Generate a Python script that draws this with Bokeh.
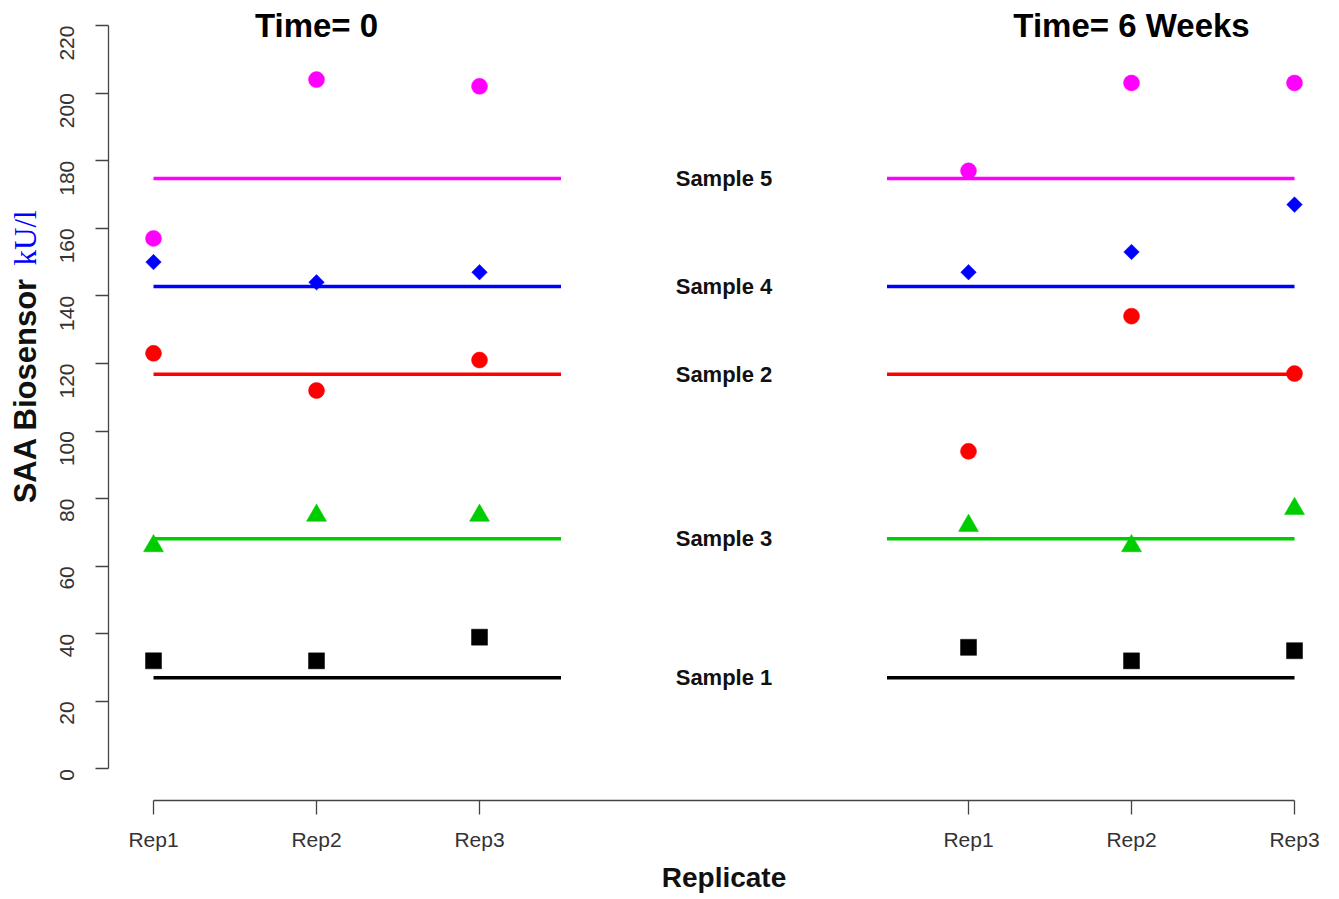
import math
from bokeh.plotting import figure
from bokeh.models import Range1d, FixedTicker, Label
from bokeh.embed import file_html
from bokeh.resources import INLINE

# ---- data ----
rep_x = [1, 2, 3, 6, 7, 8]
rep_labels = ["Rep1", "Rep2", "Rep3", "Rep1", "Rep2", "Rep3"]
y_ticks = [0, 20, 40, 60, 80, 100, 120, 140, 160, 180, 200, 220]

sample_names = ["Sample 5", "Sample 4", "Sample 2", "Sample 3", "Sample 1"]
sample5 = [157, 204, 202, 177, 203, 203]
sample4 = [150, 144, 147, 147, 153, 167]
sample2 = [123, 112, 121, 94, 134, 117]
sample3 = [66, 75, 75, 72, 66, 77]
sample1 = [32, 32, 39, 36, 32, 35]
ref_levels = [174.7, 142.8, 116.8, 68.1, 27.0]

panel_titles = ["Time= 0", "Time= 6 Weeks"]

# ---- styles ----
colors = ["#FF00FF", "#0000FF", "#FF0000", "#00CD00", "#000000"]
series = [sample5, sample4, sample2, sample3, sample1]
markers = ["circle", "square", "circle", "triangle", "square"]
msizes = [16, 11, 16, 20, 16]
mangles = [0, math.pi / 4, 0, 0, 0]

FONT = "Liberation Sans"

p = figure(width=1339, height=899, output_backend="svg", toolbar_location=None,
           x_range=Range1d(0.0613, 8.276), y_range=Range1d(-38.62, 227.40),
           min_border_left=0, min_border_right=0, min_border_top=0,
           min_border_bottom=0)
p.outline_line_color = None
p.xgrid.visible = False
p.ygrid.visible = False
p.background_fill_color = "white"
p.border_fill_color = "white"

# x axis (placed at the bottom of the data region)
xa = p.xaxis[0]
xa.fixed_location = -9.32
xa.ticker = FixedTicker(ticks=rep_x)
xa.major_label_overrides = {x: lab for x, lab in zip(rep_x, rep_labels)}
xa.bounds = (min(rep_x), max(rep_x))
xa.axis_line_color = "#444444"
xa.axis_line_width = 1.3
xa.major_tick_line_color = "#444444"
xa.major_tick_line_width = 1.3
xa.major_tick_out = 14
xa.major_tick_in = 0
xa.minor_tick_out = 0
xa.minor_tick_in = 0
xa.major_label_text_font = FONT
xa.major_label_text_font_size = "21px"
xa.major_label_text_color = "#333333"
xa.major_label_standoff = 14

# y axis (placed at the left edge of the data region)
ya = p.yaxis[0]
ya.fixed_location = 0.724
ya.ticker = FixedTicker(ticks=y_ticks)
ya.bounds = (min(y_ticks), max(y_ticks))
ya.axis_line_color = "#444444"
ya.axis_line_width = 1.3
ya.major_tick_line_color = "#444444"
ya.major_tick_line_width = 1.3
ya.major_tick_out = 13
ya.major_tick_in = 0
ya.minor_tick_out = 0
ya.minor_tick_in = 0
ya.major_label_orientation = math.pi / 2
ya.major_label_text_font = FONT
ya.major_label_text_font_size = "21px"
ya.major_label_text_color = "#333333"
ya.major_label_standoff = 29

# reference lines per sample (two panels)
for lvl, col in zip(ref_levels, colors):
    p.segment(x0=[1, 5.5], x1=[3.5, 8], y0=[lvl, lvl], y1=[lvl, lvl],
              line_color=col, line_width=3.5, line_cap="butt")

# points
for vals, col, mk, sz, ang in zip(series, colors, markers, msizes, mangles):
    p.scatter(x=rep_x, y=vals, marker=mk, size=sz, angle=ang,
              fill_color=col, line_color=col, line_width=0.5)

# sample labels in the gap
for name, lvl in zip(sample_names, ref_levels):
    p.add_layout(Label(x=4.5, y=lvl, text=name, text_align="center",
                       text_baseline="middle", text_font=FONT,
                       text_font_size="22px", text_font_style="bold",
                       text_color="#111111"))

# panel titles
centers = [sum(rep_x[:3]) / 3, sum(rep_x[3:]) / 3]
for t, cx in zip(panel_titles, centers):
    p.add_layout(Label(x=cx, y=max(y_ticks), text=t, text_align="center",
                       text_baseline="middle", text_font=FONT,
                       text_font_size="33px", text_font_style="bold",
                       text_color="#000000"))

# x axis title
p.add_layout(Label(x=(min(rep_x) + max(rep_x)) / 2, y=-32.1, text="Replicate",
                   text_align="center", text_baseline="middle",
                   text_font=FONT, text_font_size="28px",
                   text_font_style="bold", text_color="#111111"))

# y axis title (two styles)
p.add_layout(Label(x=0.2145, y=78.6, text="SAA Biosensor", angle=math.pi / 2,
                   text_align="left", text_baseline="alphabetic",
                   text_font=FONT, text_font_size="31px",
                   text_font_style="bold", text_color="#111111"))
p.add_layout(Label(x=0.2145, y=149.0, text="kU/l", angle=math.pi / 2,
                   text_align="left", text_baseline="alphabetic",
                   text_font="Liberation Serif", text_font_size="31px",
                   text_color="#0000FF"))

open("out.html", "w").write(file_html(p, INLINE))
